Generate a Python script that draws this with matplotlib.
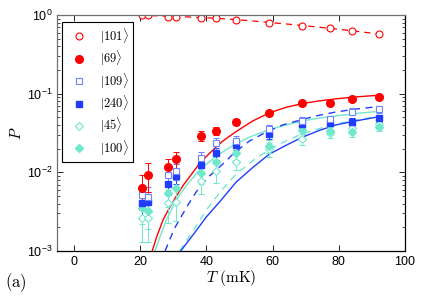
import matplotlib
matplotlib.use("Agg")
import matplotlib.pyplot as plt
from matplotlib.lines import Line2D
from matplotlib.ticker import LogLocator, NullFormatter

plt.rcParams['font.family'] = ['Liberation Sans', 'DejaVu Sans']
plt.rcParams['mathtext.fontset'] = 'cm'

# temperatures of the measured points (mK)
T = [20.5, 22.5, 28.5, 31, 38.5, 43, 49, 59, 69, 77.5, 84, 92]

# switching probabilities
P101 = [1.0, 0.99, 0.957, 0.95, 0.93, 0.92, 0.86, 0.80, 0.73, 0.68, 0.63, 0.57]
P69 = [0.0063, 0.0093, 0.0118, 0.0147, 0.0292, 0.0336, 0.0441, 0.0574, 0.0755, 0.0755, 0.0857, 0.0916]
P109 = [0.0052, 0.0049, 0.0093, 0.0104, 0.0154, 0.0234, 0.0253, 0.0356, 0.0454, 0.0473, 0.059, 0.0634]
P240 = [0.0041, 0.0042, 0.0071, 0.0091, 0.0124, 0.0175, 0.0223, 0.0308, 0.0412, 0.0428, 0.0441, 0.0487]
P45 = [0.0026, 0.0026, 0.0041, 0.0042, 0.0078, 0.0104, 0.0137, 0.0196, 0.0264, 0.0314, 0.0363, 0.0408]
P100 = [0.0035, 0.0032, 0.0054, 0.0063, 0.0097, 0.0134, 0.0175, 0.0216, 0.0346, 0.0336, 0.0329, 0.0381]

# error bars
E69 = [0.003, 0.0037, 0.003, 0.0035, 0.004, 0.004, 0.004, 0.005, 0.005, 0.005, 0.005, 0.005]
E109 = [0.0017, 0.0017, 0.0022, 0.0025, 0.003, 0.004, 0.004, 0.005, 0.005, 0.005, 0.006, 0.006]
E240 = [0.0015, 0.0015, 0.002, 0.002, 0.0025, 0.003, 0.003, 0.004, 0.004, 0.004, 0.005, 0.005]
E45 = [0.0013, 0.0013, 0.0018, 0.0018, 0.0025, 0.003, 0.003, 0.004, 0.004, 0.004, 0.005, 0.005]
E100 = [0.0013, 0.0013, 0.0018, 0.002, 0.0025, 0.003, 0.003, 0.004, 0.004, 0.004, 0.005, 0.005]

# fit curves
fitT101 = [20, 25, 30, 35, 40, 45, 50, 55, 60, 65, 70, 75, 80, 85, 92]
fitP101 = [1.0, 0.98, 0.962, 0.945, 0.925, 0.90, 0.87, 0.835, 0.80, 0.765, 0.73, 0.695, 0.66, 0.625, 0.575]

fitT69 = [23.7, 25, 27, 29, 31, 33, 35, 38, 41, 45, 49, 54, 59, 64, 69, 74, 79, 85, 91]
fitP69 = [0.001, 0.0015, 0.0025, 0.0036, 0.005, 0.0068, 0.0088, 0.013, 0.0175, 0.025, 0.033, 0.045, 0.057, 0.067, 0.075, 0.081, 0.086, 0.091, 0.095]

fitT100 = [24.5, 26, 28, 31, 34, 38, 43, 48, 53, 59, 64, 69, 74, 79, 85, 91]
fitP100 = [0.001, 0.0015, 0.0025, 0.0045, 0.0068, 0.0108, 0.016, 0.022, 0.028, 0.035, 0.040, 0.045, 0.049, 0.052, 0.056, 0.059]

fitT109 = [27.6, 29, 30.6, 33, 35.7, 38, 41, 45.8, 48.3, 53, 58.4, 63, 68.5, 73, 78.6, 84, 91]
fitP109 = [0.001, 0.0014, 0.002, 0.003, 0.0047, 0.0065, 0.009, 0.0137, 0.0175, 0.025, 0.033, 0.040, 0.0464, 0.052, 0.058, 0.063, 0.068]

fitT45 = [32, 36, 40, 44, 49, 54, 59, 64, 69, 74, 79, 85, 91]
fitP45 = [0.001, 0.0018, 0.0033, 0.0055, 0.0095, 0.014, 0.0195, 0.025, 0.031, 0.036, 0.041, 0.046, 0.051]

fitT240 = [32.3, 36, 40, 44, 49, 54, 59, 64, 69, 74, 79, 85, 91]
fitP240 = [0.001, 0.0016, 0.0027, 0.0042, 0.0075, 0.0115, 0.017, 0.022, 0.028, 0.034, 0.040, 0.045, 0.050]

legend_labels = [r'$|101\rangle$', r'$|69\rangle$', r'$|109\rangle$',
                 r'$|240\rangle$', r'$|45\rangle$', r'$|100\rangle$']

red = '#ff0000'
blue = '#1f3cff'
lblue = '#6f85ff'
cyan = '#6fe8cc'

fig = plt.figure(figsize=(4.36, 2.96), dpi=100)
ax = fig.add_axes([0.131, 0.152, 0.798, 0.797])

ax.plot(fitT101, fitP101, '--', color=red, lw=0.9, dashes=(5, 4))
ax.plot(fitT69, fitP69, '-', color=red, lw=1.0)
ax.plot(fitT100, fitP100, '-', color=cyan, lw=1.0)
ax.plot(fitT109, fitP109, '--', color=blue, lw=1.0, dashes=(5, 4))
ax.plot(fitT45, fitP45, '--', color=cyan, lw=1.0, dashes=(5, 4))
ax.plot(fitT240, fitP240, '-', color=blue, lw=1.0)

kw = dict(ls='none', elinewidth=0.7, capsize=2.2, capthick=0.7)
ax.errorbar(T, P45, yerr=E45, fmt='D', color=cyan, mfc='white', mec=cyan, ms=4.2, mew=0.8, **kw)
ax.errorbar(T, P100, yerr=E100, fmt='D', color=cyan, mfc=cyan, mec=cyan, ms=4.2, **kw)
ax.errorbar(T, P240, yerr=E240, fmt='s', color=blue, mfc=blue, mec=blue, ms=4.0, **kw)
ax.errorbar(T, P109, yerr=E109, fmt='s', color=lblue, mfc='white', mec=lblue, ms=4.5, mew=0.8, **kw)
ax.errorbar(T, P69, yerr=E69, fmt='o', color=red, mfc=red, mec=red, ms=5.5, **kw)
ax.plot(T, P101, 'o', color=red, mfc='white', mec=red, ms=5.0, mew=0.8)

ax.set_yscale('log')
ax.set_xlim(-5, 100)
ax.set_ylim(1e-3, 1)
ax.set_xticks([0, 20, 40, 60, 80, 100])
ax.yaxis.set_major_locator(LogLocator(base=10, numticks=10))
ax.yaxis.set_minor_locator(LogLocator(base=10, subs=range(2, 10), numticks=20))
ax.yaxis.set_minor_formatter(NullFormatter())
ax.tick_params(which='both', direction='in', top=True, right=True, labelsize=9)
ax.tick_params(which='major', length=4, width=0.6)
ax.tick_params(which='minor', length=2, width=0.5)
for side in ['top', 'left']:
    ax.spines[side].set_color('#707070')
for side in ['bottom', 'right']:
    ax.spines[side].set_color('black')
for s in ax.spines.values():
    s.set_linewidth(0.9)

ax.set_xlabel(r'$T\ \mathrm{(mK)}$', fontsize=11, labelpad=0)
ax.set_ylabel(r'$P$', fontsize=11, labelpad=2)

handles = [
    Line2D([], [], ls='none', marker='o', mfc='white', mec=red, ms=5.0, mew=0.8),
    Line2D([], [], ls='none', marker='o', mfc=red, mec=red, ms=5.5),
    Line2D([], [], ls='none', marker='s', mfc='white', mec=lblue, ms=4.5, mew=0.8),
    Line2D([], [], ls='none', marker='s', mfc=blue, mec=blue, ms=4.0),
    Line2D([], [], ls='none', marker='D', mfc='white', mec=cyan, ms=4.2, mew=0.8),
    Line2D([], [], ls='none', marker='D', mfc=cyan, mec=cyan, ms=4.2),
]
leg = ax.legend(handles, legend_labels, loc='upper left',
                bbox_to_anchor=(0.013, 0.972), fontsize=9, frameon=True, fancybox=False,
                edgecolor='black', framealpha=1, labelspacing=0.22, handlelength=2.0,
                handletextpad=0.7, borderpad=0.35, borderaxespad=0)
leg.get_frame().set_linewidth(0.8)

fig.text(0.012, 0.03, r'$\mathrm{(a)}$', fontsize=12)

fig.savefig('out.png', dpi=100)
